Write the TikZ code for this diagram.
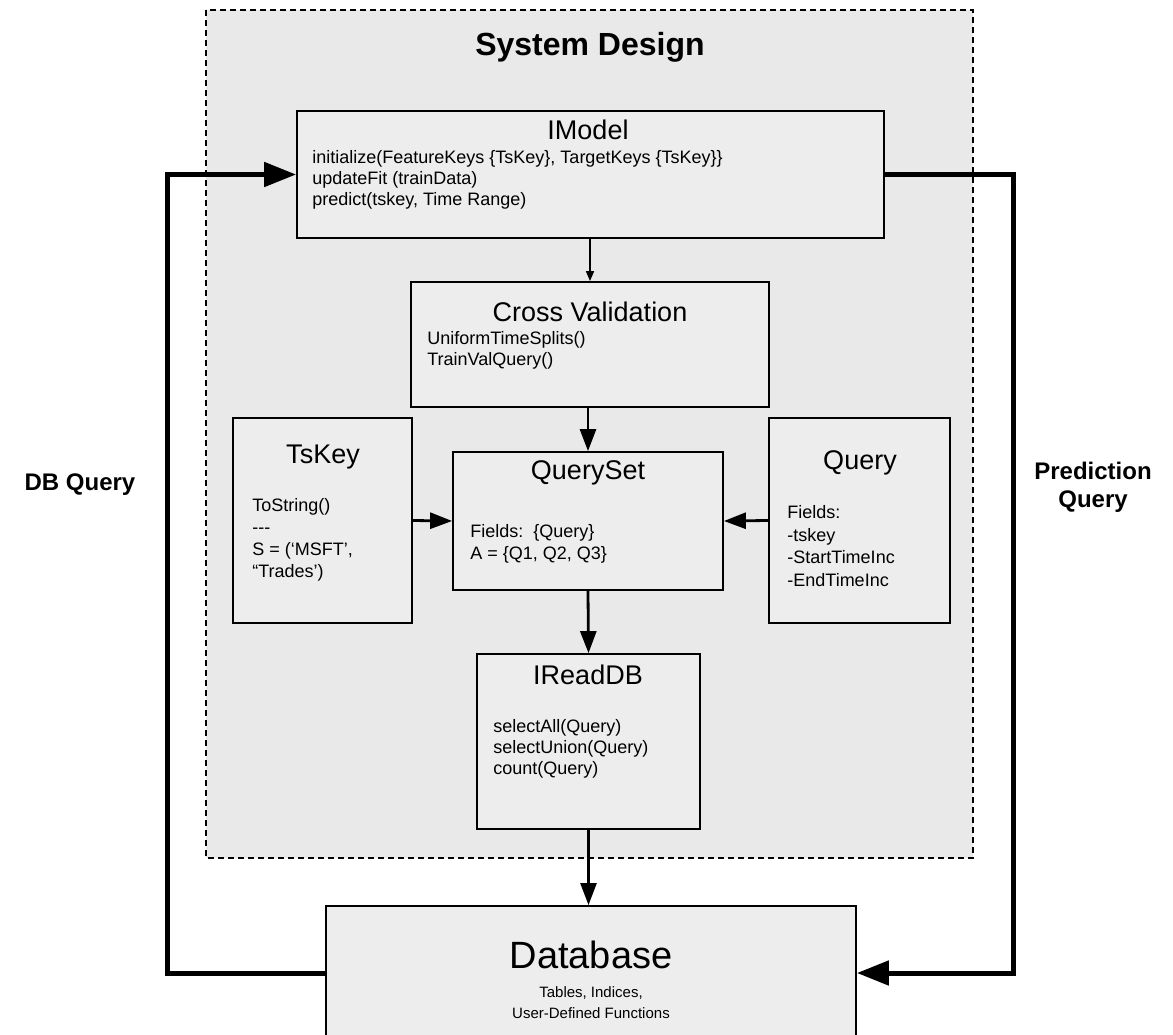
\documentclass[tikz,border=0pt]{standalone}
\usepackage{fontspec}
\setmainfont{Liberation Sans}
\usetikzlibrary{arrows.meta}
\definecolor{sdregion}{gray}{0.915}
\definecolor{sdbox}{gray}{0.93}

\begin{document}
\begin{tikzpicture}[x=0.5pt,y=-0.5pt]
            \tikzset{
            sd box/.style={draw,line width=0.9pt,fill=sdbox,inner sep=0},
            sd title/.style={font=\fontsize{13.5}{16}\selectfont,inner sep=0},
            sd body/.style={font=\fontsize{9}{10.5}\selectfont,align=left,anchor=west,inner sep=0},
            sd side/.style={font=\fontsize{12}{14}\selectfont\bfseries,align=center,inner sep=0},
            sd flow/.style={line width=1.4pt,-{Triangle[length=11pt,width=8pt]}},
            sd loop/.style={line width=2.5pt,-{Triangle[length=16pt,width=12pt]}}
            }
            \useasboundingbox (0,0) rectangle (1173,1034);
            \clip (0,0) rectangle (1173,1034);
            \fill[white] (0,0) rectangle (1173,1034);
            \draw[fill=sdregion,dash pattern=on 3pt off 2pt,line width=0.7pt] (206,10) rectangle (973,858);
            \node[font=\fontsize{16}{19}\selectfont\bfseries] (design) at (590,47) {System Design};

            \node[sd box,minimum width=293.5pt,minimum height=63.5pt] (imodel) at (590.5,174.5) {};
            \node[sd title] (imodel title) at (588,130) {IModel};
            \node[sd body] (imodel body) at (312,180) {initialize(FeatureKeys \{TsKey\}, TargetKeys \{TsKey\}\}\\updateFit (trainData)\\predict(tskey, Time Range)};

            \node[sd box,minimum width=179pt,minimum height=62.5pt] (cv) at (590,344.5) {};
            \node[sd title] (cv title) at (590,312) {Cross Validation};
            \node[sd body] (cv body) at (427,350.5) {UniformTimeSplits()\\TrainValQuery()};

            \node[sd box,minimum width=89.5pt,minimum height=102.5pt] (tskey) at (322.5,520.5) {};
            \node[sd title] (tskey title) at (323,457) {TsKey};
            \node[sd body,font=\fontsize{9}{11}\selectfont] (tskey body) at (252,540) {ToString()\\{-}{-}{-}\\S = (‘MSFT’,\\“Trades’)};

            \node[sd box,minimum width=135pt,minimum height=69pt] (qset) at (588,521) {};
            \node[sd title] (qset title) at (588,473) {QuerySet};
            \node[sd body,font=\fontsize{9}{11}\selectfont] (qset body) at (470,544) {Fields:\ \ \{Query\}\\A = \{Q1, Q2, Q3\}};

            \node[sd box,minimum width=90.5pt,minimum height=102.5pt] (query) at (859.5,520.5) {};
            \node[sd title] (query title) at (860,463) {Query};
            \node[sd body,font=\fontsize{9}{11.2}\selectfont] (query body) at (787,546) {Fields:\\-tskey\\-StartTimeInc\\-EndTimeInc};

            \node[sd box,minimum width=111.5pt,minimum height=87.5pt] (ireaddb) at (588.5,741.5) {};
            \node[sd title] (ireaddb title) at (588,675) {IReadDB};
            \node[sd body] (ireaddb body) at (493,749) {selectAll(Query)\\selectUnion(Query)\\count(Query)};

            \node[sd box,minimum width=265pt,minimum height=67pt] (db) at (591,973) {};
            \node[font=\fontsize{19}{22}\selectfont,inner sep=0] (db title) at (591,955) {Database};
            \node[font=\fontsize{7.5}{10.5}\selectfont,align=center,inner sep=0] (db body) at (591,1003) {Tables, Indices,\\User-Defined Functions};

            \node[sd side] (dbq label) at (80,485) {DB Query};
            \node[sd side] (pq label) at (1093,487) {Prediction\\Query};

            \coordinate (dbq) at (167,174.5);
            \coordinate (pq) at (1013,973);

            \draw[line width=0.8pt,-{Triangle[length=5pt,width=4pt]}]
            (cv.north |- imodel.south) -- (cv.north);

            \path[draw]
            (qset.north |- cv.south) edge[sd flow] (qset.north)
            (tskey.east) edge[sd flow] (qset.west)
            (query.west) edge[sd flow] (qset.east)
            (qset.south) edge[sd flow] (ireaddb.north)
            (ireaddb.south) edge[sd flow,line width=1.2pt] (ireaddb.south |- db.north)
            ;

            \draw[sd loop] (db.west) -| (dbq) -- (imodel.west);
            \draw[sd loop] (imodel.east) -| (pq) -- (db.east);
        \end{tikzpicture}
\end{document}
